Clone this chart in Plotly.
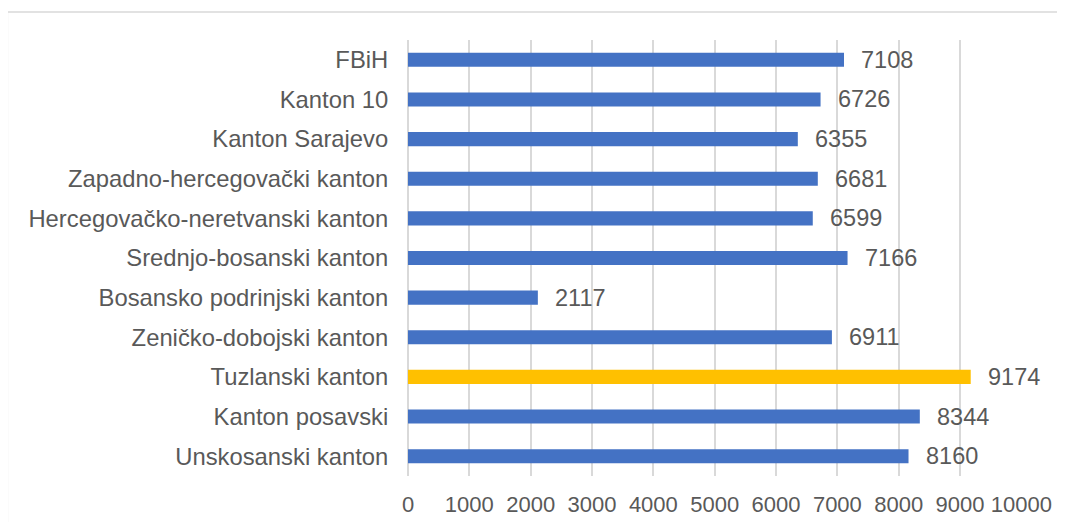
import plotly.graph_objects as go

categories = [
    "Unskosanski kanton",
    "Kanton posavski",
    "Tuzlanski kanton",
    "Zeničko-dobojski kanton",
    "Bosansko podrinjski kanton",
    "Srednjo-bosanski kanton",
    "Hercegovačko-neretvanski kanton",
    "Zapadno-hercegovački kanton",
    "Kanton Sarajevo",
    "Kanton 10",
    "FBiH",
]
values = [8160, 8344, 9174, 6911, 2117, 7166, 6599, 6681, 6355, 6726, 7108]
highlight = "Tuzlanski kanton"
x_ticks = [0, 1000, 2000, 3000, 4000, 5000, 6000, 7000, 8000, 9000, 10000]

BLUE = "#4472C4"
YELLOW = "#FFC000"
TEXT = "#595959"
GRID = "#D9D9D9"
FONT = "Liberation Sans, Arial, sans-serif"

colors = [YELLOW if c == highlight else BLUE for c in categories]

fig = go.Figure()
fig.add_trace(go.Bar(
    x=values, y=categories, orientation="h",
    marker=dict(color=colors, line=dict(width=0)),
    width=0.355, hoverinfo="x+y",
))

for c, v in zip(categories, values):
    fig.add_annotation(
        x=v, y=c, text=str(v), showarrow=False, xanchor="left",
        xshift=15, font=dict(family=FONT, size=23.5, color=TEXT),
    )

fig.add_shape(
    type="rect", xref="paper", yref="paper",
    x0=-0.6525, x1=1.2, y0=-0.3, y1=1.064,
    line=dict(color=GRID, width=1.5), fillcolor="rgba(0,0,0,0)", layer="below",
)

fig.update_layout(
    template="none",
    width=1057, height=514,
    margin=dict(l=400, r=43, t=32, b=46, autoexpand=False),
    paper_bgcolor="white", plot_bgcolor="white",
    showlegend=False,
    font=dict(family=FONT, color=TEXT),
    xaxis=dict(
        range=[0, 10010], tickvals=x_ticks, ticktext=[str(t) for t in x_ticks],
        showgrid=True, gridcolor=GRID, gridwidth=1.5,
        zeroline=True, zerolinecolor=GRID, zerolinewidth=1.5,
        showline=False, ticks="outside", ticklen=9, tickcolor="rgba(0,0,0,0)",
        tickfont=dict(family=FONT, size=22, color=TEXT), fixedrange=True,
        automargin=False,
    ),
    yaxis=dict(
        categoryorder="array", categoryarray=categories,
        showgrid=False, showline=False, zeroline=False,
        ticks="outside", ticklen=14, tickcolor="rgba(0,0,0,0)",
        tickfont=dict(family=FONT, size=23.8, color=TEXT), fixedrange=True,
        automargin=False,
    ),
)

fig.write_html("out.html")
